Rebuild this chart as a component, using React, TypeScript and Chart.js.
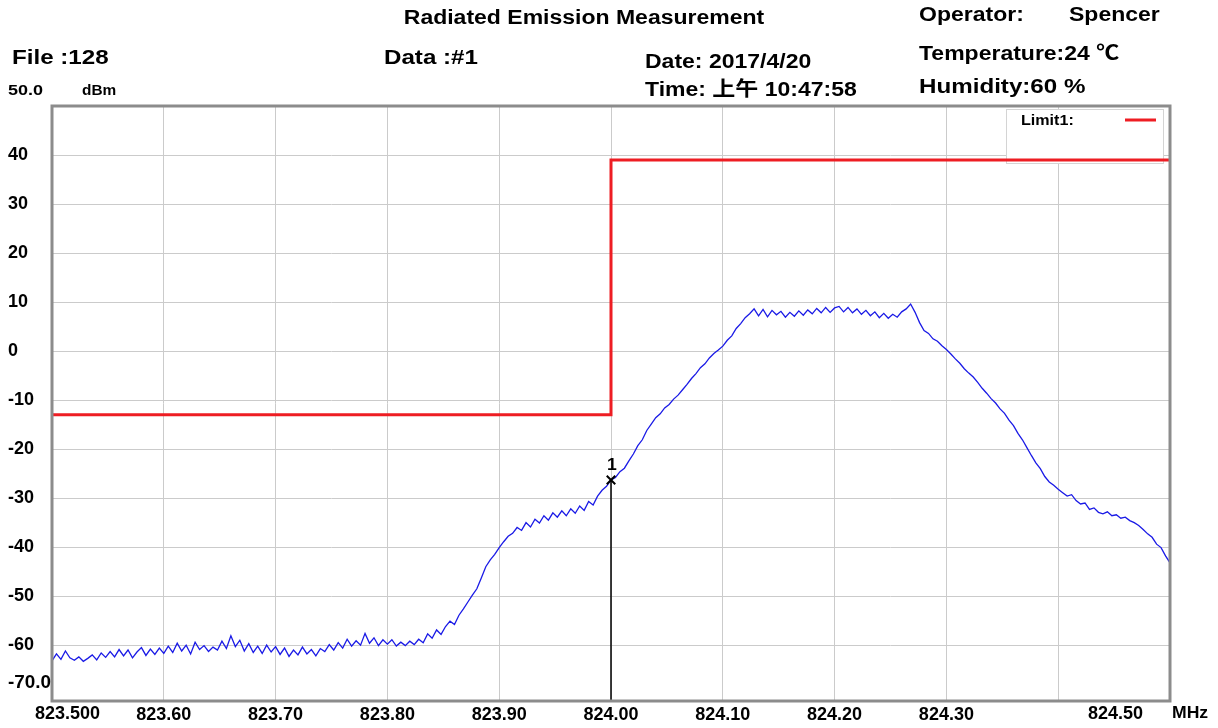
import React, { useEffect, useRef } from "react";
import { Chart, registerables } from "chart.js";

Chart.register(...registerables);

// Sweep grid of the receiver trace
const SWEEP_START_MHZ = 823.5;
const SWEEP_STEP_MHZ = 0.004;

// Measured level (dBm) per sweep point, 823.500 .. 824.500 MHz
const traceDbm = [
  -63.2, -61.8, -62.9, -61.2, -62.6, -63.1, -62.4, -63.3, -62.7, -62.0,
  -63.0, -61.6, -62.5, -61.3, -62.4, -60.9, -62.2, -61.0, -62.6, -61.4,
  -60.5, -62.1, -60.8, -61.9, -60.6, -61.7, -60.2, -61.5, -59.6, -61.2,
  -60.0, -61.8, -59.4, -60.9, -60.1, -61.3, -60.4, -61.0, -59.2, -60.7,
  -58.1, -60.3, -59.0, -61.2, -59.7, -61.5, -60.2, -61.7, -60.0, -61.4,
  -60.3, -61.9, -60.6, -62.3, -61.0, -62.0, -60.4, -61.8, -60.9, -62.2,
  -60.7, -61.3, -59.9, -61.0, -59.5, -60.6, -58.8, -60.2, -59.1, -60.0,
  -57.6, -59.6, -58.5, -60.1, -58.9, -59.8, -58.9, -60.2, -59.4, -60.1,
  -59.2, -59.9, -58.8, -59.5, -57.7, -58.6, -56.9, -57.8, -56.2, -55.1,
  -55.8, -53.9, -52.6, -51.2, -49.8, -48.5, -46.3, -44.0, -42.6, -41.5,
  -40.1, -38.9, -37.8, -37.2, -36.0, -36.6, -35.0, -35.9, -34.3, -35.1,
  -33.6, -34.5, -33.0, -33.9, -32.6, -33.6, -32.2, -33.1, -31.6, -32.5,
  -30.7, -31.4, -29.6, -28.4, -27.6, -26.3, -25.8, -24.6, -23.9, -22.4,
  -21.0, -19.3, -18.1, -16.2, -14.9, -13.6, -12.8, -11.6, -10.9, -9.8,
  -9.0, -7.9, -6.8, -5.6, -4.6, -3.4, -2.6, -1.4, -0.5, 0.2,
  1.0, 2.2, 3.1, 4.6, 5.6, 6.8, 7.6, 8.6, 7.2, 8.5,
  7.0, 8.3, 7.4, 8.1, 6.9, 7.9, 7.1, 8.2, 7.3, 8.4,
  7.6, 8.7, 7.8, 8.9, 7.9, 8.8, 9.1, 8.0, 8.9, 7.8,
  8.6, 7.5, 8.3, 7.2, 8.0, 6.8, 7.7, 6.7, 7.5, 6.9,
  8.0, 8.6, 9.6, 7.9, 5.8, 4.2, 3.6, 2.5, 2.0, 1.1,
  0.3, -0.6, -1.6, -2.5, -3.6, -4.5, -5.3, -6.4, -7.6, -8.6,
  -9.7, -10.6, -11.8, -12.7, -14.1, -15.2, -16.8, -18.1, -19.7, -21.3,
  -22.8, -24.0, -25.6, -26.7, -27.4, -28.2, -28.9, -29.6, -29.3, -30.5,
  -31.2, -31.0, -32.3, -32.0, -32.9, -33.2, -32.8, -33.6, -33.4, -34.1,
  -33.9, -34.6, -35.0, -35.6, -36.4, -37.3, -38.0, -39.4, -40.1, -41.8,
  -43.2,
];

// Limit1 line (step at 824.00 MHz)
const limitFreqMhz = [823.5, 824.0, 824.0, 824.5];
const limitDbm = [-13, -13, 39, 39];

// Marker 1
const markerFreqMhz = 824.0;
const markerDbm = -26.3;
const markerLabel = "1";

// Axis ticks
const xTickValues = [823.5, 823.6, 823.7, 823.8, 823.9, 824.0, 824.1, 824.2, 824.3, 824.4, 824.5];
const xTickLabels = ["823.500", "823.60", "823.70", "823.80", "823.90", "824.00", "824.10", "824.20", "824.30", "", "824.50"];
const yTickValues = [40, 30, 20, 10, 0, -10, -20, -30, -40, -50, -60];
const yTickLabels = ["40", "30", "20", "10", "0", "-10", "-20", "-30", "-40", "-50", "-60"];
const yTopLabel = "50.0";
const yBottomLabel = "-70.0";
const yUnit = "dBm";
const xUnit = "MHz";

const Y_MAX = 50;
const Y_MIN = -71.4;

const FONT_FAMILY = '"Liberation Sans", Arial, "Noto Sans CJK SC", sans-serif';

function drawText(
  ctx: CanvasRenderingContext2D,
  text: string,
  x: number,
  y: number,
  px: number,
  sx: number,
  align: "left" | "center" | "right" = "left",
  weight = "bold",
  color = "#000"
) {
  ctx.save();
  ctx.font = `${weight} ${px}px ${FONT_FAMILY}`;
  ctx.textBaseline = "middle";
  ctx.textAlign = "left";
  ctx.fillStyle = color;
  const w = ctx.measureText(text).width * sx;
  let left = x;
  if (align === "center") left = x - w / 2;
  else if (align === "right") left = x - w;
  ctx.translate(left, y);
  ctx.scale(sx, 1);
  ctx.fillText(text, 0, 0);
  ctx.restore();
}

const headerPlugin = {
  id: "headerText",
  afterDraw(chart: any) {
    const ctx = chart.ctx as CanvasRenderingContext2D;
    const S = 1.15;
    drawText(ctx, "Radiated Emission Measurement", 584, 18, 20, S, "center");
    drawText(ctx, "Operator:", 919, 15, 20, S);
    drawText(ctx, "Spencer", 1069, 15, 20, S);
    drawText(ctx, "File :128", 12, 58, 21, S);
    drawText(ctx, "Data :#1", 384, 58, 21, S);
    drawText(ctx, "Date: 2017/4/20", 645, 62, 20, S);
    drawText(ctx, "Temperature:24 ℃", 919, 54, 20, S);
    drawText(ctx, "Time: 上午 10:47:58", 645, 90, 20, S);
    drawText(ctx, "Humidity:60 %", 919, 87, 21, S);
    drawText(ctx, yTopLabel, 8, 91, 15, 1.2);
    drawText(ctx, yUnit, 82, 91, 14, 1.1);

    const area = chart.chartArea;
    const xs = chart.scales.x;
    drawText(ctx, yBottomLabel, 8, area.bottom - 18, 18, 1.05);
    const labelY = area.bottom + 13;
    drawText(ctx, xTickLabels[0], xs.getPixelForValue(xTickValues[0]) - 17, labelY, 18, 1.0);
    drawText(ctx, xTickLabels[xTickLabels.length - 1], xs.getPixelForValue(xTickValues[xTickValues.length - 1]) - 27, labelY, 18, 1.0, "right");
    drawText(ctx, xUnit, area.right + 2, labelY, 16, 1.1);
  },
};

const legendBoxPlugin = {
  id: "limitLegendBox",
  beforeDatasetsDraw(chart: any) {
    const ctx = chart.ctx as CanvasRenderingContext2D;
    const a = chart.chartArea;
    const bx = a.right - 164;
    const by = a.top + 3;
    const bw = 157;
    const bh = 54;
    ctx.save();
    ctx.fillStyle = "#ffffff";
    ctx.fillRect(bx, by, bw, bh);
    ctx.strokeStyle = "#d4d4d4";
    ctx.lineWidth = 1;
    ctx.strokeRect(bx + 0.5, by + 0.5, bw, bh);
    ctx.restore();
    drawText(ctx, "Limit1:", bx + 15, by + 12, 14, 1.15);
    ctx.save();
    ctx.strokeStyle = "#ee1d23";
    ctx.lineWidth = 3;
    ctx.beginPath();
    ctx.moveTo(bx + 119, by + 11);
    ctx.lineTo(bx + 150, by + 11);
    ctx.stroke();
    ctx.restore();
  },
};

const framePlugin = {
  id: "plotFrame",
  afterDatasetsDraw(chart: any) {
    const ctx = chart.ctx as CanvasRenderingContext2D;
    const a = chart.chartArea;
    ctx.save();
    ctx.strokeStyle = "#8c8c8c";
    ctx.lineWidth = 3;
    ctx.strokeRect(a.left, a.top, a.right - a.left, a.bottom - a.top);
    ctx.restore();

    // marker number above the marker symbol
    const px = chart.scales.x.getPixelForValue(markerFreqMhz);
    const py = chart.scales.y.getPixelForValue(markerDbm);
    drawText(ctx, markerLabel, px - 4, py - 14, 16, 1.1);
  },
};

export default function App() {
  const canvasRef = useRef<HTMLCanvasElement | null>(null);

  useEffect(() => {
    const canvas = canvasRef.current;
    if (!canvas) return;

    const tracePoints = traceDbm.map((v, i) => ({
      x: SWEEP_START_MHZ + i * SWEEP_STEP_MHZ,
      y: v,
    }));
    const limitPoints = limitFreqMhz.map((f, i) => ({ x: f, y: limitDbm[i] }));

    const chart = new Chart(canvas, {
      type: "line",
      data: {
        datasets: [
          {
            label: "Marker",
            data: [{ x: markerFreqMhz, y: markerDbm }],
            showLine: false,
            pointStyle: "crossRot",
            pointRadius: 6,
            pointBorderWidth: 2,
            pointBorderColor: "#000",
            borderColor: "#000",
          },
          {
            label: "Marker line",
            data: [
              { x: markerFreqMhz, y: markerDbm },
              { x: markerFreqMhz, y: Y_MIN },
            ],
            borderColor: "#000",
            borderWidth: 1.5,
            pointRadius: 0,
          },
          {
            label: "Trace",
            data: tracePoints,
            borderColor: "#1a1ae6",
            borderWidth: 1.3,
            pointRadius: 0,
            tension: 0,
          },
          {
            label: "Limit1",
            data: limitPoints,
            borderColor: "#ee1d23",
            borderWidth: 3,
            pointRadius: 0,
            tension: 0,
          },
        ],
      },
      options: {
        responsive: false,
        animation: false,
        devicePixelRatio: 1,
        layout: { padding: { left: 8, right: 48, top: 106, bottom: 0 } },
        plugins: {
          legend: { display: false },
          tooltip: { enabled: false },
          title: { display: false },
        },
        scales: {
          x: {
            type: "linear",
            min: 823.5,
            max: 824.5,
            afterBuildTicks: (scale: any) => {
              scale.ticks = xTickValues.map((v) => ({ value: v }));
            },
            afterFit: (scale: any) => {
              scale.height = 27;
            },
            ticks: {
              autoSkip: false,
              maxRotation: 0,
              padding: 3,
              color: "#000",
              font: { family: FONT_FAMILY, size: 18, weight: "bold" },
              callback: (_v: any, i: number) =>
                i === 0 || i === xTickLabels.length - 1 ? "" : xTickLabels[i],
            },
            grid: { color: "#cbcbcb", lineWidth: 1, drawTicks: false },
            border: { display: false },
          },
          y: {
            type: "linear",
            min: Y_MIN,
            max: Y_MAX,
            afterBuildTicks: (scale: any) => {
              scale.ticks = yTickValues.map((v) => ({ value: v }));
            },
            afterFit: (scale: any) => {
              scale.width = 44;
            },
            ticks: {
              autoSkip: false,
              crossAlign: "far",
              padding: 0,
              color: "#000",
              font: { family: FONT_FAMILY, size: 18, weight: "bold" },
              callback: (_v: any, i: number) => yTickLabels[i],
            },
            grid: { color: "#cbcbcb", lineWidth: 1, drawTicks: false },
            border: { display: false },
          },
        },
      } as any,
      plugins: [legendBoxPlugin, framePlugin, headerPlugin],
    });

    return () => chart.destroy();
  }, []);

  return (
    <div style={{ position: "absolute", left: 0, top: 0, width: 1218, height: 728, background: "#fff" }}>
      <canvas ref={canvasRef} width={1218} height={728} style={{ display: "block" }} />
    </div>
  );
}
